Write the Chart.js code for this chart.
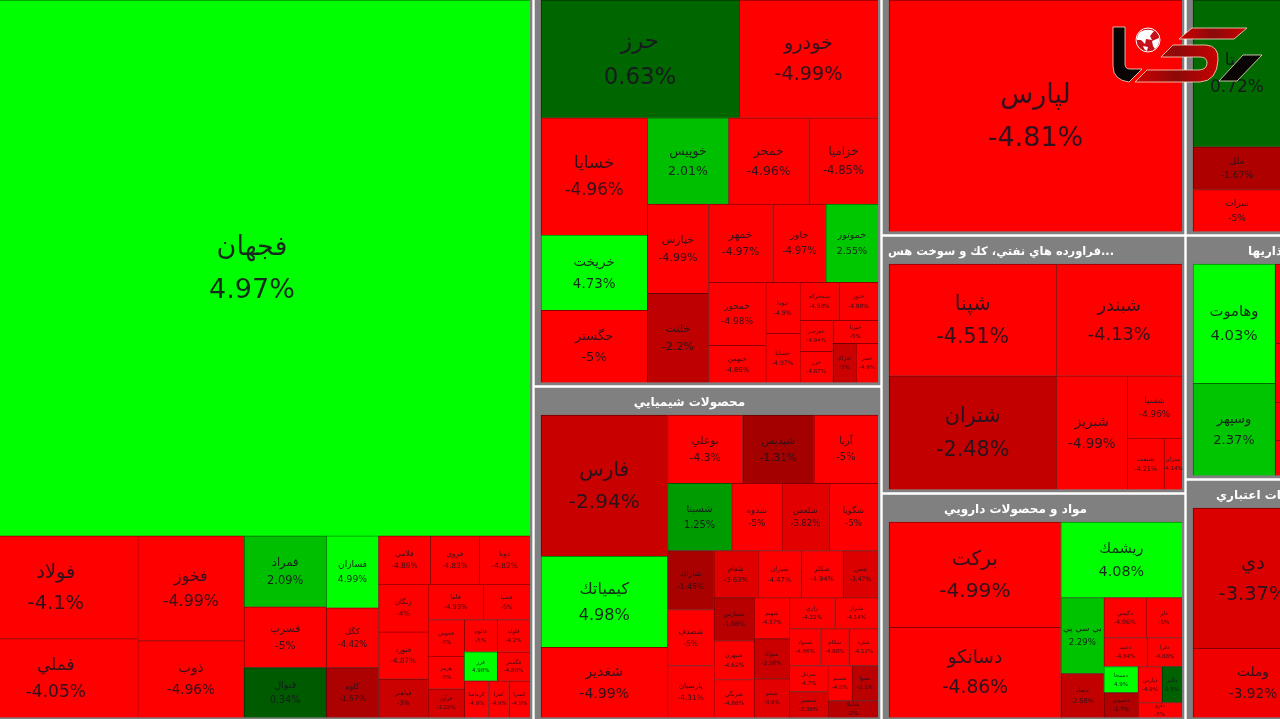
<!DOCTYPE html>
<html>
<head>
<meta charset="utf-8">
<title>Market map</title>
<script src="https://cdn.jsdelivr.net/npm/chart.js@4"></script>
<style>
html, body { margin: 0; padding: 0; background: #fff; overflow: hidden; }
#wrap { position: relative; width: 1280px; height: 719px; overflow: hidden; }
#map { filter: blur(0.45px); }
#logo { position: absolute; left: 0; top: 0; }
</style>
</head>
<body>
<div id="wrap">
<canvas id="map" width="1280" height="719"></canvas>
<svg id="logo" width="1280" height="719" viewBox="0 0 1280 719">
    <defs>
        <linearGradient id="dark_red" x1="0" x2="1" y1="0" y2="0">
            <stop offset="0" stop-color="#d00000"/>
            <stop offset="0.5" stop-color="#8c0a0a"/>
            <stop offset="1" stop-color="#c80000"/>
        </linearGradient>
    </defs>
    <g stroke="#f3e3c8" stroke-width="0.8" stroke-linejoin="round">
        <path fill="#0a0505" d="M1113 27 H1125 V64 Q1125 69 1130 69 H1142 L1129 82 Q1113 80 1113 66 Z"/>
        <path fill="url(#dark_red)" d="M1192 28 H1247 L1234 39 H1179 Z"/>
        <path fill="url(#dark_red)" d="M1173 45 H1206 Q1219 46 1218 60 Q1217 81 1200 82 H1135 L1147 70 H1198 Q1207 70 1207 63 Q1207 57 1200 57 H1161 Z"/>
        <path fill="#0a0505" d="M1243 55 H1262 L1237 81 H1219 Z"/>
    </g>
    <circle cx="1148" cy="40" r="12" fill="#c8101a" stroke="#fff" stroke-width="1"/>
    <path fill="#fff" d="M1140 32 Q1147 28 1154 31 L1150 36 L1152 40 L1146 39 L1145 44 L1141 40 L1137 40 Q1137 35 1140 32 Z M1152 41 L1159 38 Q1160 45 1155 49 L1153 46 Z M1143 46 L1148 47 L1147 51 Q1144 50 1143 46 Z"/>
</svg>
</div>

<script>
// market sectors, in the order they are laid out
const sectorNames = ["فلزات اساسي", "خودرو و ساخت قطعات", "محصولات شيميايي", "شركتهاي چند رشته اي", "فراورده هاي نفتي، كك و سوخت هس...", "مواد و محصولات دارويي", "بانكها", "سرمايه گذاريها", "بانكها و موسسات اعتباري"];
const sectorCaps = [425250, 144420, 116580, 80256, 78432, 69312, 66000, 61000, 60500];
// nested lists flip direction on every level, a number is that many cells in a row
const sectorTree = [1, [2], [3], [3]];
const sectorCells = [
    [1, [[2], [2], [3], [3], [[3], [[3], [[2], [[3], [[[2], [2]], [3]]]]]]]],
    [[2], [[3], [[3], [[2], [[3], [[2], [2], [[2], [[2], [1, [2]]]]]]]]]],
    [[3], [[3], [4], [[3], [[4], [[3], [3], [[2], [3], [[2], [[2], 1]]]]]]]],
    [1],
    [[2], [1, [1, [1, [2]]]]],
    [[2], [1, [[2], [[2], [2], [[2], [[2], 1]]]]]],
    [[3], 1],
    [[2], [4]],
    [[2], 1]
];
const sectorStartsWide = [false, false, true, true, true, true, true, true, true];

// every cell, sector after sector
const symbols = [
    "فجهان", "فولاد", "فملي", "فخوز", "ذوب", "فمراد", "فسرب", "فنوال", "فسازان", "كگل", "كاوه",
    "فلامي", "فروي", "ذوبا", "زنگان", "فنورد", "فباهنر", "فاما", "فسپا", "فجوش", "هرمز", "فرآور",
    "فالوم", "فزر", "فلوله", "فگستر", "كرماشا", "كفرا", "كسرا",
    "حرز", "خودرو", "خسايا", "خريخت", "حگستر", "خوپيس", "خمحر", "خزاميا", "خپارس", "خلنت",
    "خمهر", "خاور", "خموتور", "خمحور", "خبهمن", "خودا", "خساپا", "سمحركه", "ختور", "خعرجير",
    "خزر", "خبرنا", "ختراك", "خفنر",
    "فارس", "كيمياتك", "شغدير", "بوعلي", "شپديس", "آريا", "شسينا", "شدوه", "شلعس", "شگويا",
    "شاراك", "شصدف", "پارسيان", "شفام", "شيران", "شكلر", "شفن", "شفارس", "شبهرن", "شرنگي",
    "شهيم", "شتوكا", "شجم", "رازي", "شيراز", "شمواد", "شكام", "شلرد", "شرانل", "شبصير",
    "شسم", "شنوا", "شاملا",
    "لپارس",
    "شپنا", "شتران", "شبندر", "شبريز", "شسپا", "شنفت", "ستران",
    "بركت", "دسانكو", "ريشمك", "بي سي پي", "دتماد", "دكيمي", "دلر", "دعبيد", "دفرا", "دسبحا",
    "دشيمي", "دپارس", "دالبر", "دارو",
    "ستا", "ملل", "سرات", "",
    "وهاموت", "وسپهر", "", "", "", "",
    "دي", "وملت", ""
];
const changes = [
    4.97, -4.1, -4.05, -4.99, -4.96, 2.09, -5, 0.34, 4.99, -4.42, -1.57,
    -4.89, -4.83, -4.82, -4, -4.87, -3, -4.93, -5, -5, -5, -3.28,
    -5, 4.98, -4.2, -4.88, -4.9, -4.9, -4.9,
    0.63, -4.99, -4.96, 4.73, -5, 2.01, -4.96, -4.85, -4.99, -2.2,
    -4.97, -4.97, 2.55, -4.98, -4.86, -4.9, -4.97, -4.58, -4.98, -4.94,
    -4.87, -5, -3, -4.9,
    -2.94, 4.98, -4.99, -4.3, -1.31, -5, 1.25, -5, -3.82, -5,
    -1.45, -5, -4.31, -3.63, -4.47, -4.94, -3.47, -1.98, -4.62, -4.88,
    -4.57, -2.98, -3.8, -4.22, -4.14, -4.86, -4.88, -4.12, -4.7, -3.38,
    -4.8, -2.1, -2,
    -4.81,
    -4.51, -2.48, -4.13, -4.99, -4.96, -4.21, -4.14,
    -4.99, -4.86, 4.08, 2.29, -2.58, -4.96, -5, -4.84, -4.88, 4.9,
    -1.7, -4.9, 0.5, -5,
    0.72, -1.67, -5, -5,
    4.03, 2.37, -4.9, -4.9, -4.9, -4.9,
    -3.37, -3.92, -5
];
const caps = [
    297460, 16789, 12877, 11130, 8162, 5822, 5002, 4100, 3744, 3120, 2600,
    2496, 2352, 2448, 2352, 2303, 1911, 1960, 1645, 1332, 1188, 1044,
    1056, 957, 1056, 957, 888, 740, 777,
    23166, 16263, 12402, 7950, 7632, 6966, 6880, 5934, 5429, 5429,
    4992, 4134, 4056, 3591, 2109, 1734, 1666, 1482, 1482, 1023,
    1023, 1035, 897, 858,
    17766, 11466, 8820, 5100, 4828, 4352, 4288, 3350, 3149, 3283,
    2714, 2576, 2392, 2068, 2021, 1974, 1645, 1720, 1560, 1520,
    1440, 1404, 1368, 1395, 1333, 1147, 1036, 1073, 988, 988,
    840, 910, 850,
    80000,
    18648, 18984, 13986, 8023, 3410, 1887, 918,
    18060, 15480, 9150, 3268, 1892, 1680, 1440, 1247, 1015, 884,
    850, 864, 720, 660,
    12936, 3784, 3696, 35032,
    9758, 7544, 12403, 9263, 5966, 5495,
    16800, 8280, 24871
];

// the map is bigger than the screenshot, it runs past the left, top and right edge
const MAP = { x0: -32, x1: 1437, y0: -27, y1: 723 };
const GAP = 3, HEADER = 27, PAD_LEFT = 6, PAD_RIGHT = 5, PAD_BOTTOM = 5.5;
// header titles sit a bit left of the middle on the original map
const TITLE_SHIFT = 18;

buildNode = (tree, weights, cursor) => {
    let kids = [];
    tree.forEach(item => {
        if (Array.isArray(item)) {
            kids.push(buildNode(item, weights, cursor));
        } else {
            for (let n = 0; n < item; n++) {
                kids.push({ leaf: cursor.i, weight: weights[cursor.i] });
                cursor.i++;
            }
        }
    });
    return { kids: kids, weight: kids.reduce((sum, kid) => sum + kid.weight, 0) };
};

placeNode = (node, box, wide, out) => {
    let pos = wide ? box.x0 : box.y0;
    const size = wide ? box.x1 - box.x0 : box.y1 - box.y0;
    node.kids.forEach(kid => {
        const end = pos + size * kid.weight / node.weight;
        const part = wide ? { x0: pos, x1: end, y0: box.y0, y1: box.y1 } : { x0: box.x0, x1: box.x1, y0: pos, y1: end };
        if (kid.kids) {
            placeNode(kid, part, !wide, out);
        } else {
            out[kid.leaf] = part;
        }
        pos = end;
    });
};

// sectors first, then the cells inside each of them
let sectorBoxes = [];
placeNode(buildNode(sectorTree, sectorCaps, { i: 0 }), MAP, true, sectorBoxes);

let cellBoxes = [];
let cursor = { i: 0 };
sectorCells.forEach((tree, s) => {
    const box = sectorBoxes[s];
    const inner = { x0: box.x0 + PAD_LEFT, x1: box.x1 - PAD_RIGHT, y0: box.y0 + HEADER, y1: box.y1 - PAD_BOTTOM };
    placeNode(buildNode(tree, caps, cursor), inner, sectorStartsWide[s], cellBoxes);
});

const cellData = cellBoxes.map((b, i) => ({ ...b, x: (b.x0 + b.x1) / 2, y: (b.y0 + b.y1) / 2, name: symbols[i], change: changes[i] }));
const frameData = sectorBoxes.map((b, i) => ({ x0: b.x0, x1: b.x1 - GAP, y0: b.y0, y1: b.y1 - GAP, x: b.x0, y: b.y0, name: sectorNames[i] }));

// colour steps as they show on the map
const redSteps = [[1.3, 165], [2.2, 190], [2.94, 200], [3.4, 220], [3.85, 228], [4.0, 255]];
const greenSteps = [[0.3, 90], [0.72, 105], [1.25, 155], [2.01, 190], [2.55, 200], [3.6, 255]];

stepValue = (steps, v) => {
    if (v <= steps[0][0]) return steps[0][1];
    for (let i = 1; i < steps.length; i++) {
        if (v <= steps[i][0]) {
            const t = (v - steps[i - 1][0]) / (steps[i][0] - steps[i - 1][0]);
            return steps[i - 1][1] + t * (steps[i][1] - steps[i - 1][1]);
        }
    }
    return steps[steps.length - 1][1];
};

cellColor = (change, dim) => {
    if (change >= 0) return "rgb(0," + Math.round(stepValue(greenSteps, change) * dim) + ",0)";
    return "rgb(" + Math.round(stepValue(redSteps, -change) * dim) + ",0,0)";
};

// Chart.js has no treemap type, so a small controller puts bar elements on the scales
class TreemapController extends Chart.DatasetController {
    update(mode) {
        const meta = this._cachedMeta;
        this.updateElements(meta.data, 0, meta.data.length, mode);
    }
    updateElements(rects, start, count, mode) {
        const { xScale, yScale, _parsed } = this._cachedMeta;
        for (let i = start; i < start + count; i++) {
            const box = _parsed[i];
            const left = xScale.getPixelForValue(box.x0);
            const right = xScale.getPixelForValue(box.x1);
            const top = yScale.getPixelForValue(box.y0);
            const bottom = yScale.getPixelForValue(box.y1);
            this.updateElement(rects[i], i, {
                x: (left + right) / 2, y: top, base: bottom,
                width: right - left, height: bottom - top,
                horizontal: false, inflateAmount: 0.3, enableBorderRadius: false,
                borderSkipped: { top: false, left: false, bottom: false, right: false },
                options: this.resolveDataElementOptions(i, mode)
            }, mode);
        }
    }
}
TreemapController.id = "treemap";
TreemapController.defaults = { dataElementType: "bar", datasetElementType: false };
Chart.register(TreemapController);

// names and percentages on top of the cells, titles on the grey headers
const labelPlugin = {
    id: "cell_labels",
    afterDatasetsDraw(chart) {
        const ctx = chart.ctx;
        const xs = chart.scales.x, ys = chart.scales.y;
        ctx.save();
        ctx.textBaseline = "middle";
        ctx.fillStyle = "#fff";
        frameData.forEach(f => {
            const trimmed = f.name.endsWith("...");
            ctx.font = (trimmed ? "bold 11.5px" : "bold 12px") + " 'DejaVu Sans'";
            ctx.textAlign = trimmed ? "left" : "center";
            const x = trimmed ? xs.getPixelForValue(f.x0 + 5) : xs.getPixelForValue((f.x0 + f.x1) / 2 - TITLE_SHIFT);
            ctx.fillText(f.name, x, ys.getPixelForValue(f.y0 + 15));
        });
        ctx.textAlign = "center";
        ctx.fillStyle = "rgba(24,20,32,0.9)";
        cellData.forEach(c => {
            if (c.name === "") return;
            const w = xs.getPixelForValue(c.x1) - xs.getPixelForValue(c.x0);
            const h = ys.getPixelForValue(c.y1) - ys.getPixelForValue(c.y0);
            const size = Math.max(5.5, Math.min(27, Math.sqrt(w * h) * 0.15));
            const x = xs.getPixelForValue(c.x);
            const y = ys.getPixelForValue(c.y);
            ctx.font = size + "px 'DejaVu Sans'";
            ctx.fillText(c.name, x, y - size * 0.75);
            ctx.fillText(c.change + "%", x, y + size * 0.85);
        });
        ctx.restore();
    }
};

new Chart(document.getElementById("map"), {
    type: "treemap",
    data: {
        datasets: [{
            data: cellData,
            order: 1,
            parsing: false,
            backgroundColor: cellData.map(c => cellColor(c.change, 1)),
            borderColor: cellData.map(c => cellColor(c.change, 0.55)),
            borderWidth: { top: 1, left: 1, right: 0, bottom: 0 }
        }, {
            data: frameData,
            order: 2,
            parsing: false,
            backgroundColor: "#808080",
            borderWidth: 0
        }]
    },
    options: {
        responsive: false,
        animation: false,
        events: [],
        layout: { padding: 0 },
        scales: {
            x: { type: "linear", display: false, min: 0, max: 1280 },
            y: { type: "linear", display: false, min: 0, max: 719, reverse: true }
        },
        plugins: { legend: { display: false }, tooltip: { enabled: false } }
    },
    plugins: [labelPlugin]
});
</script>
</body>
</html>
